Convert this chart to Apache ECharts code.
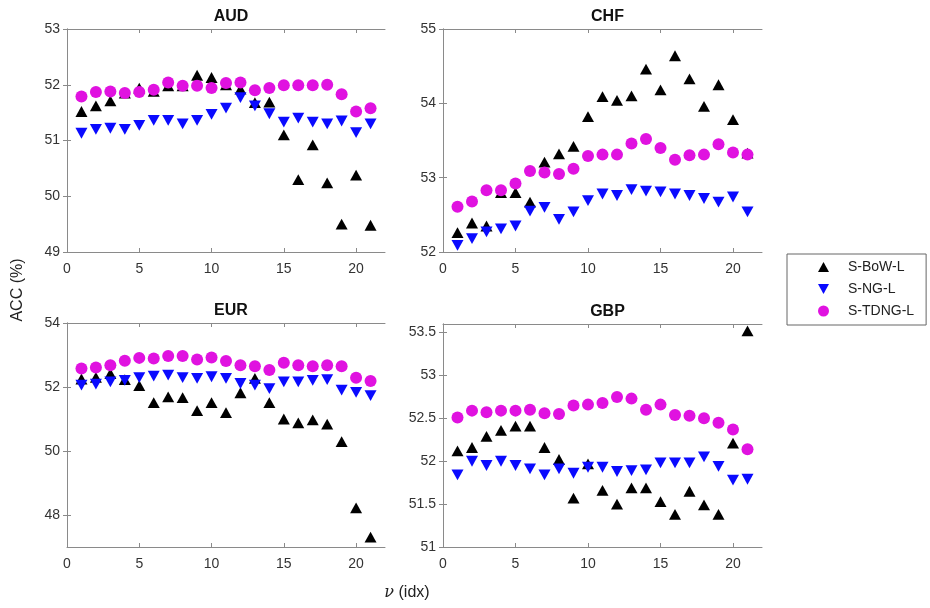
<!DOCTYPE html>
<html>
<head>
<meta charset="utf-8">
<script src="https://cdn.jsdelivr.net/npm/echarts@6/dist/echarts.min.js"></script>
<style>html,body{margin:0;padding:0;background:#fff}#c{width:930px;height:608px}</style>
</head>
<body>
<div id="c"></div>
<script>
var idx = [1,2,3,4,5,6,7,8,9,10,11,12,13,14,15,16,17,18,19,20,21];
var xTicks = [0,5,10,15,20];
var seriesNames = ['S-BoW-L','S-NG-L','S-TDNG-L'];
var panelTitles = ['AUD','CHF','EUR','GBP'];

var audBoW  = [51.52,51.62,51.71,51.85,51.94,51.88,51.98,51.98,52.17,52.13,52.0,51.92,51.68,51.69,51.10,50.30,50.92,50.24,49.50,50.38,49.48];
var audNG   = [51.13,51.20,51.22,51.20,51.27,51.36,51.36,51.30,51.36,51.47,51.58,51.77,51.62,51.48,51.33,51.40,51.33,51.30,51.35,51.14,51.30];
var audTDNG = [51.79,51.87,51.88,51.85,51.87,51.91,52.04,51.98,51.98,51.94,52.03,52.04,51.90,51.94,51.99,51.99,51.99,52.00,51.83,51.52,51.58];

var chfBoW  = [52.26,52.39,52.35,52.80,52.80,52.67,53.21,53.32,53.42,53.82,54.09,54.04,54.10,54.46,54.18,54.64,54.33,53.96,54.25,53.78,53.33];
var chfNG   = [52.09,52.18,52.27,52.31,52.35,52.55,52.60,52.44,52.54,52.69,52.78,52.76,52.84,52.82,52.81,52.78,52.76,52.72,52.67,52.74,52.54];
var chfTDNG = [52.61,52.68,52.83,52.83,52.92,53.09,53.07,53.05,53.12,53.29,53.31,53.31,53.46,53.52,53.40,53.24,53.30,53.31,53.45,53.34,53.31];

var eurBoW  = [52.25,52.30,52.42,52.23,52.04,51.51,51.69,51.67,51.26,51.51,51.20,51.82,52.27,51.51,51.00,50.88,50.97,50.84,50.29,48.22,47.31];
var eurNG   = [52.06,52.09,52.16,52.21,52.29,52.34,52.37,52.29,52.27,52.32,52.27,52.11,52.06,51.95,52.16,52.16,52.21,52.23,51.90,51.83,51.73];
var eurTDNG = [52.58,52.61,52.68,52.82,52.91,52.89,52.97,52.97,52.86,52.92,52.81,52.68,52.65,52.53,52.76,52.68,52.65,52.68,52.65,52.29,52.19];

var gbpBoW  = [52.12,52.16,52.29,52.36,52.41,52.41,52.16,52.02,51.57,51.97,51.66,51.50,51.69,51.69,51.53,51.38,51.65,51.49,51.38,52.21,53.52];
var gbpNG   = [51.84,52.00,51.95,52.00,51.95,51.91,51.84,51.91,51.86,51.93,51.93,51.88,51.89,51.90,51.98,51.98,51.98,52.05,51.94,51.78,51.79];
var gbpTDNG = [52.51,52.59,52.57,52.59,52.59,52.60,52.56,52.55,52.65,52.66,52.68,52.75,52.73,52.60,52.66,52.54,52.53,52.50,52.45,52.37,52.14];

var audTicks = [49,50,51,52,53];
var chfTicks = [52,53,54,55];
var eurTicks = [48,50,52,54];
var gbpTicks = [51,51.5,52,52.5,53,53.5];

var panelData = [[audBoW,audNG,audTDNG],[chfBoW,chfNG,chfTDNG],[eurBoW,eurNG,eurTDNG],[gbpBoW,gbpNG,gbpTDNG]];
var yRanges = [[49,53],[52,55],[47,54],[51,53.6]];
var yTickSets = [audTicks,chfTicks,eurTicks,gbpTicks];

var grids = [
  {left:67, top:29, width:318, height:223},
  {left:443, top:29, width:319, height:223},
  {left:67, top:323, width:318, height:224},
  {left:443, top:324, width:319, height:223}
];

var axisColor = '#8a8a8a';
var labelColor = '#333';
var font = 'Liberation Sans, Arial, sans-serif';
var downTri = 'path://M0,0 L10,0 L5,9 Z';
var upTri = 'path://M5,0 L10,9 L0,9 Z';
var symbols = [upTri, downTri, 'circle'];
var colors = ['#000000','#0a0aff','#e012e0'];
var sizes = [12, 12, 12];

var option = {
  animation:false,
  backgroundColor:'#fff',
  title: [], grid: [], xAxis: [], yAxis: [], series: [],
  legend: {
    orient:'vertical', left:787, top:254,
    padding:[6,12,7,31], itemGap:8, itemWidth:11, itemHeight:11,
    borderColor:'#666', borderWidth:1, borderRadius:0,
    textStyle:{fontFamily:font, fontSize:14, color:'#222', padding:[0,0,0,14]},
    data: [
      {name:seriesNames[0], icon:upTri},
      {name:seriesNames[1], icon:downTri},
      {name:seriesNames[2], icon:'circle'}
    ]
  },
  graphic: [
    {type:'text', x:18, y:290, rotation:Math.PI/2, style:{text:'ACC (%)', font:'16px '+font, fill:'#222', align:'center', verticalAlign:'middle'}},
    {type:'text', x:407, y:593, style:{text:'{i|ν} (idx)', fill:'#222', font:'16px '+font, align:'center', verticalAlign:'middle',
      rich:{i:{fontStyle:'italic', fontFamily:'DejaVu Serif, serif', fontSize:16, fill:'#222'}}}}
  ]
};

for (var p = 0; p < 4; p++) {
  var g = grids[p];
  option.grid.push({left:g.left, top:g.top, width:g.width, height:g.height, containLabel:false});
  option.title.push({text:panelTitles[p], left:g.left + g.width/2, top:g.top - 25, textAlign:'center',
    textStyle:{fontFamily:font, fontSize:16, fontWeight:'bold', color:'#111'}});
  var xa = {type:'value', gridIndex:p, min:0, max:22, interval:1,
    axisLine:{show:true, lineStyle:{color:axisColor, width:1}},
    axisTick:{show:true, inside:true, length:4, lineStyle:{color:axisColor}, customValues:xTicks},
    axisLabel:{show:true, customValues:xTicks, fontFamily:font, fontSize:14, color:labelColor, margin:10},
    splitLine:{show:false}};
  var xaTop = JSON.parse(JSON.stringify(xa));
  xaTop.position = 'top'; xaTop.axisLabel = {show:false};
  option.xAxis.push(xa, xaTop);
  var yt = yTickSets[p];
  var ya = {type:'value', gridIndex:p, min:yRanges[p][0], max:yRanges[p][1], interval:0.5,
    axisLine:{show:true, lineStyle:{color:axisColor, width:1}},
    axisTick:{show:true, inside:true, length:4, lineStyle:{color:axisColor}, customValues:yt},
    axisLabel:{show:true, customValues:yt, fontFamily:font, fontSize:14, color:labelColor, margin:7},
    splitLine:{show:false}};
  var yaR = JSON.parse(JSON.stringify(ya));
  yaR.position = 'right'; yaR.axisLabel = {show:false};
  option.yAxis.push(ya, yaR);
  for (var s = 0; s < 3; s++) {
    var vals = panelData[p][s];
    var pts = [];
    for (var k = 0; k < idx.length; k++) pts.push([idx[k], vals[k]]);
    option.series.push({
      type:'scatter', name:seriesNames[s], xAxisIndex:2*p, yAxisIndex:2*p,
      symbol:symbols[s], symbolSize:sizes[s], symbolKeepAspect:true,
      itemStyle:{color:colors[s], opacity:1},
      emphasis:{disabled:true},
      data:pts, z:2+s
    });
  }
}
var chart = echarts.init(document.getElementById('c'), null, {renderer:'canvas'});
chart.setOption(option);
</script>
</body>
</html>
